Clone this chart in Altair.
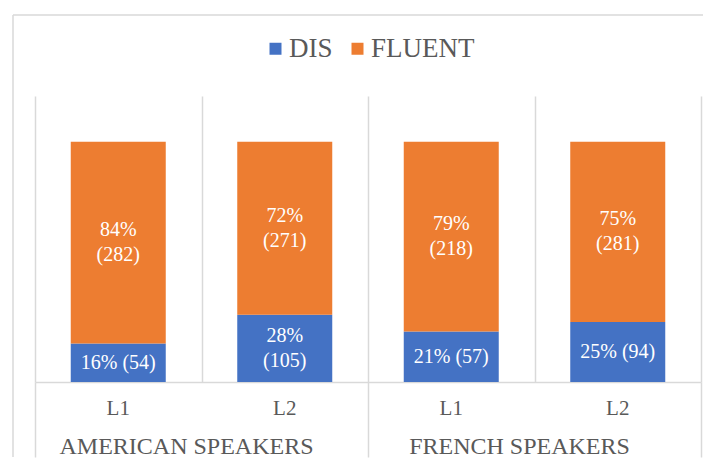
import altair as alt
import pandas as pd

# ---- data ----
group_names = ["AMERICAN SPEAKERS", "FRENCH SPEAKERS"]
groups = ["AMERICAN SPEAKERS", "AMERICAN SPEAKERS", "FRENCH SPEAKERS", "FRENCH SPEAKERS"]
levels = ["L1", "L2", "L1", "L2"]
series = ["DIS", "FLUENT"]
dis_pct = [16, 28, 21, 25]
dis_n = [54, 105, 57, 94]
fluent_pct = [84, 72, 79, 75]
fluent_n = [282, 271, 218, 281]
dis_sep = [" ", "\n", " ", " "]
fluent_sep = ["\n", "\n", "\n", "\n"]

colors = ["#4472C4", "#ED7D31"]
FONT = 'Liberation Serif, Tinos, "Times New Roman", "DejaVu Serif", serif'
GRID = "#d9d9d9"
TXT = "#595959"

cat_order = [f"{g}|{l}" for g, l in zip(groups, levels)]
rows = []
for i in range(len(levels)):
    rows.append(dict(cat=cat_order[i], series="DIS", pct=dis_pct[i] / 100,
                     label=f"{dis_pct[i]}%{dis_sep[i]}({dis_n[i]})"))
    rows.append(dict(cat=cat_order[i], series="FLUENT", pct=fluent_pct[i] / 100,
                     label=f"{fluent_pct[i]}%{fluent_sep[i]}({fluent_n[i]})"))
df = pd.DataFrame(rows)
tick_df = pd.DataFrame({"group": groups, "level": levels})
grp_df = pd.DataFrame({"group": group_names})

x_top = alt.X("cat:N", sort=cat_order,
              scale=alt.Scale(paddingInner=0, paddingOuter=0),
              axis=alt.Axis(labels=False, ticks=False, title=None, grid=True,
                            tickBand="extent", gridColor=GRID, gridWidth=1.5,
                            domainColor=GRID, domainWidth=1.5))
y_scale = alt.Scale(domain=[0, 1.19])

bars = alt.Chart(df).mark_bar(size=95).encode(
    x=x_top,
    y=alt.Y("pct:Q", stack="zero", scale=y_scale, axis=None),
    color=alt.Color("series:N", scale=alt.Scale(domain=series, range=colors),
                    legend=alt.Legend(title=None, orient="none", legendX=227, legendY=-61,
                                      direction="horizontal")),
    order=alt.Order("series:N", sort="ascending"),
)

stacked = alt.Chart(df).transform_stack(
    stack="pct", groupby=["cat"], as_=["y0", "y1"],
    sort=[alt.SortField("series", order="ascending")]
).transform_calculate(mid="(datum.y0 + datum.y1) / 2")

label_enc = dict(
    x=alt.X("cat:N", sort=cat_order),
    y=alt.Y("mid:Q", scale=y_scale, axis=None),
    text="label:N",
)
labels_two = stacked.transform_filter("indexof(datum.label, '\\n') >= 0").mark_text(
    font=FONT, fontSize=20, color="white", lineBreak="\n", lineHeight=25,
    baseline="middle", dy=-12.5
).encode(**label_enc)
labels_one = stacked.transform_filter("indexof(datum.label, '\\n') < 0").mark_text(
    font=FONT, fontSize=20, color="white", baseline="middle"
).encode(**label_enc)

frame_top = alt.Chart(alt.Data(values=[{}])).mark_rule(color=GRID, strokeWidth=1.5).encode(
    x=alt.value(-22), x2=alt.value(668), y=alt.value(-81))
frame_left = alt.Chart(alt.Data(values=[{}])).mark_rule(color=GRID, strokeWidth=1.5).encode(
    x=alt.value(-22), y=alt.value(-81), y2=alt.value(361))

top = alt.layer(frame_top, frame_left, bars, labels_two, labels_one).properties(width=666, height=286)

x_bot = alt.X("group:N", sort=group_names,
              scale=alt.Scale(paddingInner=0, paddingOuter=0),
              axis=alt.Axis(labels=False, ticks=False, domain=False, title=None, grid=True,
                            tickBand="extent", gridColor=GRID, gridWidth=1.5))

lvl_text = alt.Chart(tick_df).mark_text(font=FONT, fontSize=21, color=TXT, baseline="middle").encode(
    x=x_bot,
    xOffset=alt.XOffset("level:N", scale=alt.Scale(type="point", padding=0.5)),
    y=alt.value(27),
    text="level:N",
)
grp_text = alt.Chart(grp_df).mark_text(font=FONT, fontSize=24, color=TXT, baseline="middle", dx=-15).encode(
    x=x_bot,
    y=alt.value(65),
    text="group:N",
)
bottom = alt.layer(lvl_text, grp_text).properties(width=666, height=75)

chart = alt.vconcat(top, bottom, spacing=0, bounds="flush").properties(
    padding={"left": 3, "top": 5, "right": 0, "bottom": 0}
).configure_view(stroke="transparent").configure_legend(
    symbolType="square", symbolSize=144, symbolStrokeWidth=0,
    labelFont=FONT, labelFontSize=27, labelColor=TXT,
    columnPadding=11, labelOffset=0,
)

chart.save("out.html", embed_options={"renderer": "svg", "actions": False})
